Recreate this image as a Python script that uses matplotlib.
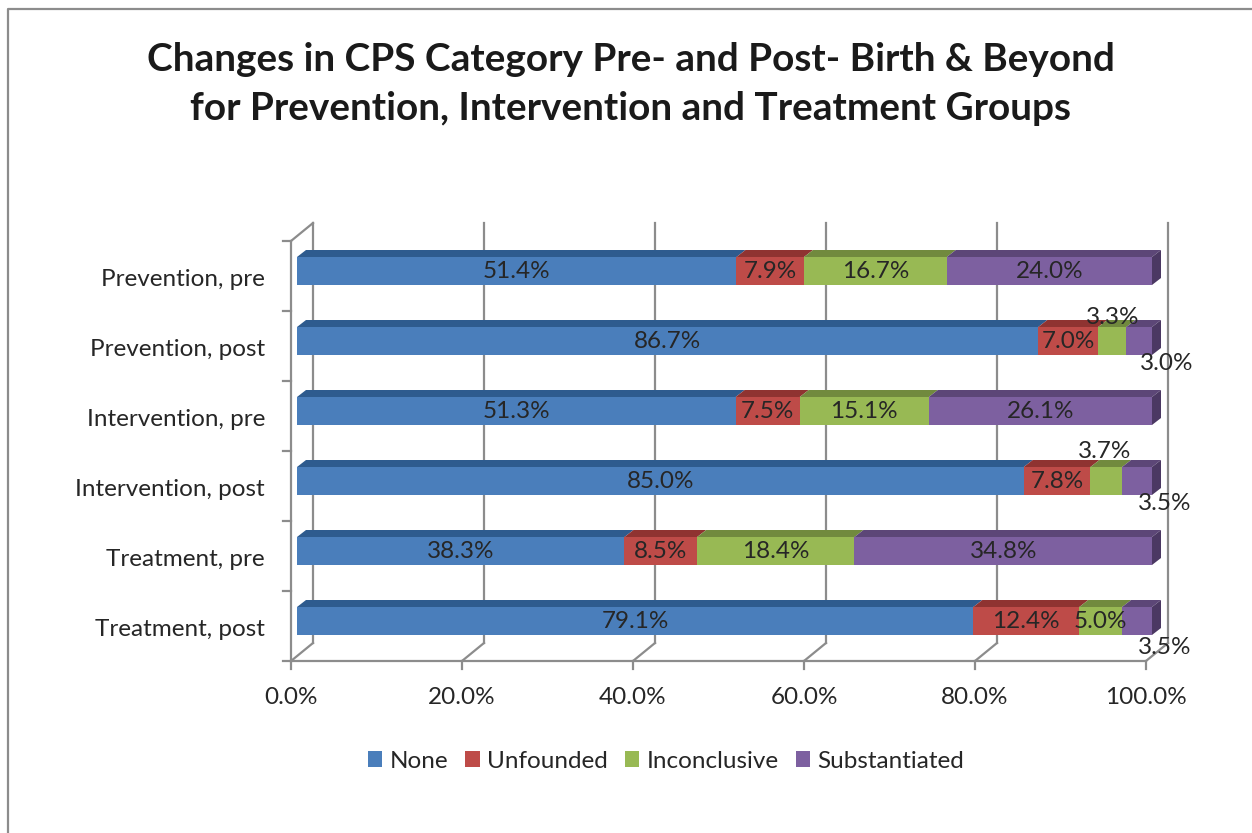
import matplotlib
matplotlib.use("Agg")
import matplotlib.pyplot as plt
from matplotlib.patches import Rectangle, Polygon, Patch
from matplotlib.lines import Line2D

# ---------------- data ----------------
categories = ["Prevention, pre", "Prevention, post", "Intervention, pre",
              "Intervention, post", "Treatment, pre", "Treatment, post"]
series_names = ["None", "Unfounded", "Inconclusive", "Substantiated"]
none_vals = [51.4, 86.7, 51.3, 85.0, 38.3, 79.1]
unfounded_vals = [7.9, 7.0, 7.5, 7.8, 8.5, 12.4]
inconclusive_vals = [16.7, 3.3, 15.1, 3.7, 18.4, 5.0]
substantiated_vals = [24.0, 3.0, 26.1, 3.5, 34.8, 3.5]
x_ticks = [0, 20, 40, 60, 80, 100]
x_tick_labels = ["0.0%", "20.0%", "40.0%", "60.0%", "80.0%", "100.0%"]
title = ("Changes in CPS Category Pre- and Post- Birth & Beyond\n"
         "for Prevention, Intervention and Treatment Groups")

series = [none_vals, unfounded_vals, inconclusive_vals, substantiated_vals]

# ---------------- style ----------------
front_c = ['#4A7EBB', '#BE4B48', '#98B954', '#7D60A0']
top_c = ['#2E5B8E', '#8F3331', '#718A3E', '#5C4677']
side_c = ['#24497A', '#7A2A28', '#5F7534', '#4B3863']
grid_c = '#8C8C8C'
text_c = '#262626'
FONT = ['Lato', 'DejaVu Sans']
plt.rcParams['font.family'] = FONT
FS = 17.5

# label pixel offsets (x right, y down) for small segments
label_offsets = {(1, 2): (0, -24), (1, 3): (28, 21),
                 (3, 2): (-2, -30), (3, 3): (28, 22),
                 (5, 3): (28, 25)}

W, H = 1252, 833
fig = plt.figure(figsize=(W / 100, H / 100), dpi=100)

# border of chart area
fig.add_artist(Line2D([8 / W, 8 / W, 1.0], [0.0, 1 - 9 / H, 1 - 9 / H],
                      transform=fig.transFigure, color='#8C8C8C', lw=1.6))

# axes box in pixels
L, R, T, B = 270, 1205, 200, 690
ax = fig.add_axes([L / W, 1 - B / H, (R - L) / W, (B - T) / H])
x0_px, sx = 297, 8.55     # pixel of 0 %, pixels per percent
yc_px, sy = 621, 70       # pixel of bottom bar centre, pixels per row
ax.set_xlim((L - x0_px) / sx, (R - x0_px) / sx)
ax.set_ylim((yc_px - B) / sy, (yc_px - T) / sy)
ax.axis('off')


def off(px, py):
    return px / sx, -py / sy


n = len(categories)
vpos = [n - 1 - i for i in range(n)]
bh = 0.4
fx, fy = off(-6, 5)      # front plane
bx, by = off(16, -13)    # back wall
dx, dy = off(9, -7)      # bar depth
lo, hi = -0.5, n - 0.5
lw = 1.6

# back wall gridlines + floor diagonals
for t, lab in zip(x_ticks, x_tick_labels):
    ax.plot([t + bx, t + bx], [lo + by, hi + by], color=grid_c, lw=lw, zorder=1)
    ax.plot([t + fx, t + bx], [lo + fy, lo + by], color=grid_c, lw=lw, zorder=1)
    ax.plot([t + fx, t + fx], [lo + fy, lo + fy + off(0, 8)[1]], color=grid_c, lw=lw, zorder=1)
    ax.text(t + fx, lo + fy + off(0, 36)[1], lab,
            ha='center', va='center', fontsize=FS, color=text_c)
# floor front edge
ax.plot([fx, 100 + fx], [lo + fy, lo + fy], color=grid_c, lw=lw, zorder=1)
# left wall
ax.plot([fx, fx], [lo + fy, hi + fy], color=grid_c, lw=lw, zorder=1)
ax.plot([fx, bx], [hi + fy, hi + by], color=grid_c, lw=lw, zorder=1)
for k in range(n + 1):
    yy = lo + k + fy
    ax.plot([fx + off(-8, 0)[0], fx], [yy, yy], color=grid_c, lw=lw, zorder=1)

# category labels
for i, cat in enumerate(categories):
    ax.text(fx + off(-26, 0)[0], vpos[i] + fy + off(0, 3)[1], cat, ha='right', va='center',
            fontsize=FS, color=text_c)

# bars
for i in range(n):
    v = vpos[i]
    start = 0.0
    for s, vals in enumerate(series):
        w = vals[i]
        ax.add_patch(Rectangle((start, v - bh / 2), w, bh, facecolor=front_c[s],
                               edgecolor='none', zorder=3))
        ax.add_patch(Polygon([(start, v + bh / 2), (start + w, v + bh / 2),
                              (start + w + dx, v + bh / 2 + dy), (start + dx, v + bh / 2 + dy)],
                             closed=True, facecolor=top_c[s], edgecolor='none', zorder=3))
        if s == len(series) - 1:
            e = start + w
            ax.add_patch(Polygon([(e, v - bh / 2), (e + dx, v - bh / 2 + dy),
                                  (e + dx, v + bh / 2 + dy), (e, v + bh / 2)],
                                 closed=True, facecolor=side_c[s], edgecolor='none', zorder=3))
        ox, oy = label_offsets.get((i, s), (0, 0))
        ax.text(start + w / 2 + off(ox, 0)[0], v + off(0, oy + 1)[1], f"{w:.1f}%",
                ha='center', va='center', fontsize=FS, color=text_c, zorder=5)
        start += w

# title
fig.text(631 / W, 1 - 84 / H, title, ha='center', va='center', fontsize=27.9,
         fontweight='bold', color='#1A1A1A', linespacing=1.5)

# legend
handles = [Patch(facecolor=front_c[s], edgecolor='none') for s in range(len(series))]
fig.legend(handles, series_names, loc='center', bbox_to_anchor=(666 / W, 1 - 761 / H),
           ncol=4, frameon=False, fontsize=FS, handlelength=0.6, handleheight=0.6,
           handletextpad=0.3, columnspacing=0.7, labelcolor=text_c)

fig.savefig("out.png", dpi=100)
